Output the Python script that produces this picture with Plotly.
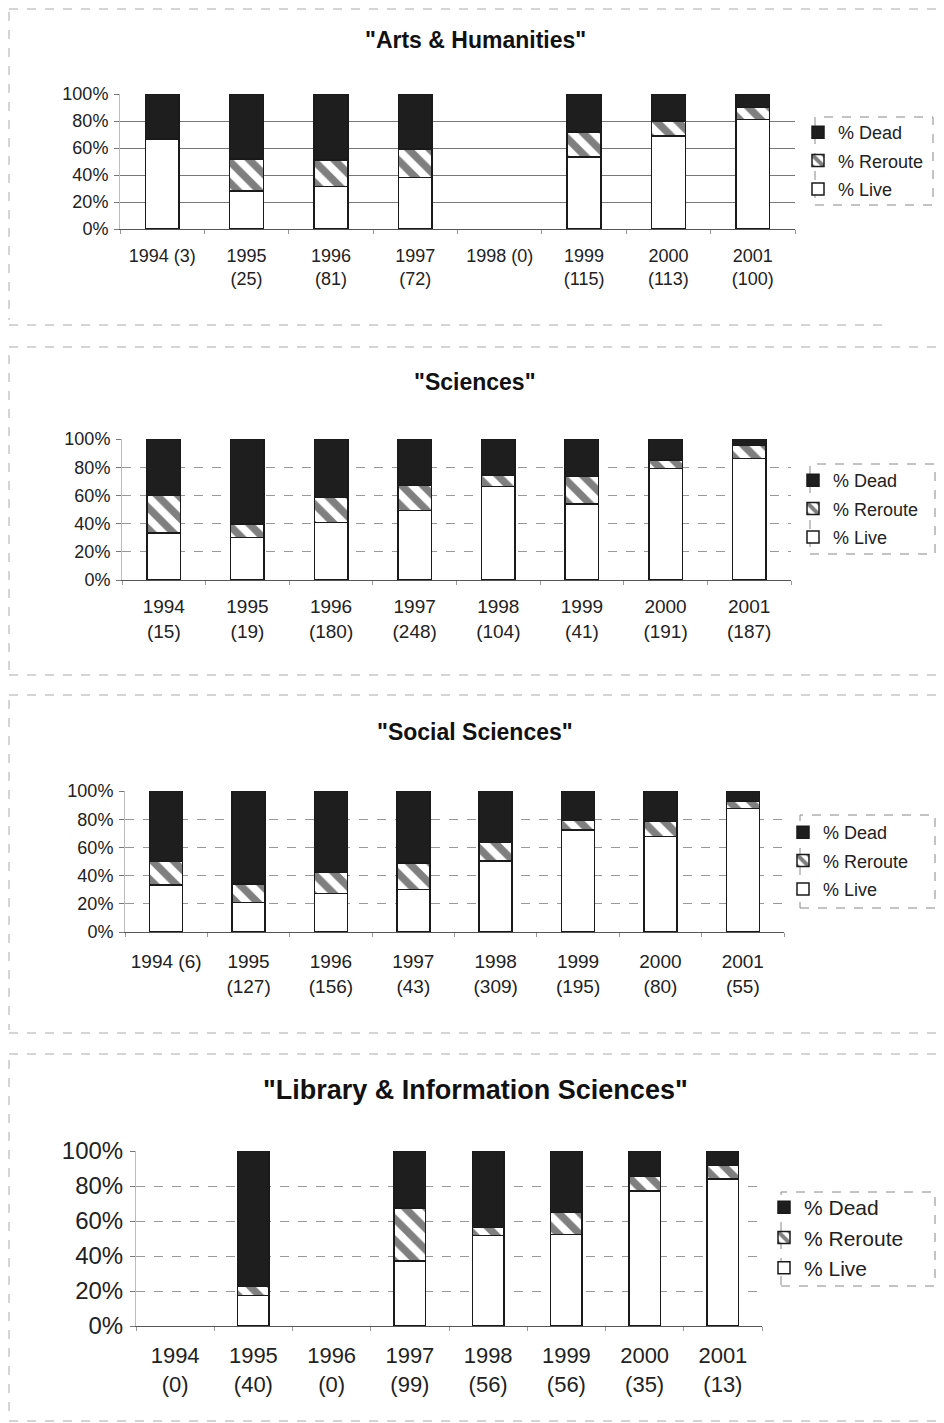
import plotly.graph_objects as go

W, H = 944, 1423
OFF = 8  # page body margin of the html document
FONT = "Liberation Sans, Arial, sans-serif"

years = ["1994", "1995", "1996", "1997", "1998", "1999", "2000", "2001"]
pct_ticks = [0, 20, 40, 60, 80, 100]
pct_labels = ["0%", "20%", "40%", "60%", "80%", "100%"]

# Arts & Humanities
arts_title = '"Arts & Humanities"'
arts_labels = ["1994 (3)", "1995<br>(25)", "1996<br>(81)", "1997<br>(72)",
               "1998 (0)", "1999<br>(115)", "2000<br>(113)", "2001<br>(100)"]
arts_live = [66.7, 28.0, 31.5, 38.2, None, 53.4, 69.0, 81.3]
arts_reroute = [None, 23.7, 19.5, 20.9, None, 18.5, 11.0, 8.6]
arts_dead = [33.3, 48.3, 49.0, 40.9, None, 28.1, 20.0, 10.1]

# Sciences
sci_title = '"Sciences"'
sci_labels = ["1994<br>(15)", "1995<br>(19)", "1996<br>(180)", "1997<br>(248)",
              "1998<br>(104)", "1999<br>(41)", "2000<br>(191)", "2001<br>(187)"]
sci_live = [33.3, 30.0, 40.9, 49.4, 66.2, 53.9, 79.2, 86.3]
sci_reroute = [26.7, 9.7, 17.5, 17.7, 8.3, 19.6, 5.9, 9.0]
sci_dead = [40.0, 60.3, 41.6, 32.9, 25.5, 26.5, 14.9, 4.7]

# Social Sciences
soc_title = '"Social Sciences"'
soc_labels = ["1994 (6)", "1995<br>(127)", "1996<br>(156)", "1997<br>(43)",
              "1998<br>(309)", "1999<br>(195)", "2000<br>(80)", "2001<br>(55)"]
soc_live = [33.3, 21.0, 27.4, 30.0, 50.5, 72.2, 67.9, 87.5]
soc_reroute = [16.7, 13.0, 14.8, 18.8, 12.9, 6.8, 10.6, 5.0]
soc_dead = [50.0, 66.0, 57.8, 51.2, 36.6, 21.0, 21.5, 7.5]

# Library & Information Sciences
lib_title = '"Library & Information Sciences"'
lib_labels = ["1994<br>(0)", "1995<br>(40)", "1996<br>(0)", "1997<br>(99)",
              "1998<br>(56)", "1999<br>(56)", "2000<br>(35)", "2001<br>(13)"]
lib_live = [None, 17.5, None, 37.1, 51.8, 52.4, 77.2, 84.1]
lib_reroute = [None, 5.0, None, 30.2, 4.6, 12.6, 8.3, 7.7]
lib_dead = [None, 77.5, None, 32.7, 43.6, 35.0, 14.5, 8.2]


def px(x):
    return (x - OFF) / W


def py(y):
    return 1 - (y - OFF) / H


panels = [
    dict(title=arts_title, labels=arts_labels, live=arts_live, reroute=arts_reroute, dead=arts_dead,
         xd=(120, 795), yd=(94, 229), title_y=40, tfs=23, fs=18, xfs=18, lfs=18, stand=10, gap=2,
         leg=(815, 117, 933, 205), legy=114, grid="solid", gridcolor="#777"),
    dict(title=sci_title, labels=sci_labels, live=sci_live, reroute=sci_reroute, dead=sci_dead,
         xd=(122, 791), yd=(439, 580), title_y=382, tfs=23, fs=18, xfs=19, lfs=18, stand=9, gap=2,
         leg=(810, 464, 935, 554), legy=462, grid="dash", gridcolor="#999"),
    dict(title=soc_title, labels=soc_labels, live=soc_live, reroute=soc_reroute, dead=soc_dead,
         xd=(125, 784), yd=(791, 932), title_y=732, tfs=23, fs=18, xfs=19, lfs=18, stand=12, gap=2,
         leg=(800, 815, 935, 908), legy=814, grid="dash", gridcolor="#999"),
    dict(title=lib_title, labels=lib_labels, live=lib_live, reroute=lib_reroute, dead=lib_dead,
         xd=(136, 762), yd=(1151, 1326), title_y=1090, tfs=27, fs=24, xfs=22, lfs=21, stand=10, gap=0,
         leg=(781, 1192, 935, 1286), legy=1187, grid="dash", gridcolor="#999"),
]

fig = go.Figure()
layout = dict(
    width=W, height=H, margin=dict(l=0, r=0, t=0, b=0, autoexpand=False),
    paper_bgcolor="white", plot_bgcolor="white",
    barmode="stack", bargap=0.6, showlegend=True,
    font=dict(family=FONT, color="#222"),
)
shapes = []
annotations = []

for i, p in enumerate(panels):
    n = i + 1
    xa = "x" if n == 1 else f"x{n}"
    ya = "y" if n == 1 else f"y{n}"
    leg = "legend" if n == 1 else f"legend{n}"
    series = [
        ("% Live", p["live"], 3, dict(color="white", line=dict(color="#1a1a1a", width=1.5))),
        ("% Reroute", p["reroute"], 2, dict(color="white", line=dict(color="#1a1a1a", width=1.5),
                                           pattern=dict(shape="\\", fgcolor="#000", bgcolor="white",
                                                        size=15, solidity=0.5))),
        ("% Dead", p["dead"], 1, dict(color="#1e1e1e", line=dict(color="#1a1a1a", width=1.5))),
    ]
    for name, vals, rank, marker in series:
        fig.add_trace(go.Bar(
            x=years, y=vals, name=name, marker=marker, xaxis=xa, yaxis=ya,
            legend=leg, legendgroup=f"p{n}{name}", legendrank=rank, hoverinfo="skip",
        ))
    xkey = "xaxis" if n == 1 else f"xaxis{n}"
    ykey = "yaxis" if n == 1 else f"yaxis{n}"
    layout[xkey] = dict(
        domain=[px(p["xd"][0]), px(p["xd"][1])], anchor=ya, type="category",
        categoryorder="array", categoryarray=years,
        tickmode="array", tickvals=years, ticktext=p["labels"],
        tickfont=dict(size=p["xfs"], family=FONT, color="#222"),
        showline=True, linecolor="#555", linewidth=1,
        ticks="outside", tickson="boundaries", ticklen=4, tickcolor="#999",
        ticklabelstandoff=p["stand"], showgrid=False, zeroline=False, fixedrange=True,
        automargin=False,
    )
    layout[ykey] = dict(
        domain=[py(p["yd"][1]), py(p["yd"][0])], anchor=xa, range=[0, 100],
        tickmode="array", tickvals=pct_ticks, ticktext=pct_labels,
        tickfont=dict(size=p["fs"], family=FONT, color="#222"),
        showgrid=True, gridcolor=p["gridcolor"], griddash=p["grid"], gridwidth=1,
        showline=True, linecolor="#bbb", linewidth=1,
        ticks="outside", ticklen=5, tickcolor="#777", ticklabelstandoff=2,
        zeroline=False, fixedrange=True, automargin=False,
    )
    lx0, ly0, lx1, ly1 = p["leg"]
    layout[leg] = dict(
        x=px(lx0 - 17), y=py(p["legy"]), xanchor="left", yanchor="top",
        bgcolor="rgba(0,0,0,0)", borderwidth=0,
        font=dict(size=p["lfs"], family=FONT, color="#222"),
        traceorder="grouped", tracegroupgap=p["gap"], itemwidth=30,
    )
    shapes.append(dict(type="rect", xref="paper", yref="paper",
                       x0=px(lx0), x1=px(lx1), y0=py(ly1), y1=py(ly0),
                       line=dict(color="#888", width=1, dash="dash")))
    annotations.append(dict(
        text=f"<b>{p['title']}</b>", xref="paper", yref="paper",
        x=px(475), y=py(p["title_y"]), xanchor="center", yanchor="middle",
        showarrow=False, font=dict(size=p["tfs"], family=FONT, color="#111"),
    ))

# panel frame (scanned chart borders)
frame_lines = [
    (9, 9, 944, 9), (9, 12, 9, 320), (9, 325, 890, 325),
    (9, 347, 944, 347), (9, 355, 9, 675), (9, 675, 944, 675),
    (9, 695, 944, 695), (9, 700, 9, 1030), (9, 1033, 944, 1033),
    (9, 1054, 944, 1054), (9, 1060, 9, 1420), (940, 1060, 940, 1420),
    (9, 1421, 944, 1421),
]
for x0, y0, x1, y1 in frame_lines:
    shapes.append(dict(type="line", xref="paper", yref="paper",
                       x0=px(x0), x1=px(x1), y0=py(y0), y1=py(y1),
                       line=dict(color="#aaa", width=1, dash="dash")))

layout["shapes"] = shapes
layout["annotations"] = annotations
fig.update_layout(**layout)
fig.write_html("out.html")
